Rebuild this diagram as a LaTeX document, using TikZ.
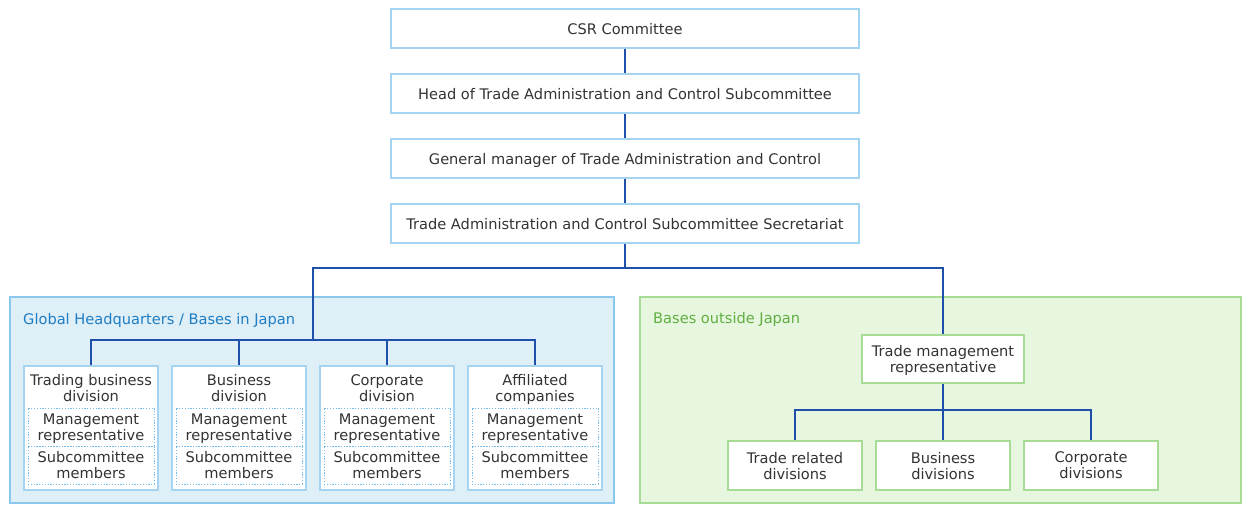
\documentclass[tikz,border=0pt]{standalone}
\usepackage{fontspec}
\setmainfont{DejaVu Sans}
\definecolor{txtgray}{RGB}{51,51,51}
\definecolor{boxblue}{RGB}{165,212,240}
\definecolor{dotblue}{RGB}{120,185,230}
\definecolor{lineblue}{RGB}{30,80,170}
\definecolor{jpnfill}{RGB}{222,239,248}
\definecolor{jpnline}{RGB}{140,200,235}
\definecolor{jpntext}{RGB}{30,125,195}
\definecolor{ovsfill}{RGB}{231,246,223}
\definecolor{ovsline}{RGB}{168,220,150}
\definecolor{ovstext}{RGB}{95,175,65}
\begin{document}
\begin{tikzpicture}[x=1pt, y=-1pt,
every node/.style={font=\fontsize{14.6}{16}\selectfont, text=txtgray, align=center, inner sep=0pt, text depth=0pt},
topbox/.style={draw=boxblue, fill=white, line width=1.2pt, minimum width=468pt, minimum height=39pt},
divbox/.style={draw=boxblue, fill=white, line width=1.2pt, minimum width=134pt, minimum height=124pt},
dotbox/.style={draw=dotblue, dash pattern=on 1.2pt off 1.6pt, line width=1pt, minimum width=126pt, minimum height=38pt},
ovsbox/.style={draw=ovsline, fill=white, line width=1.2pt, minimum width=134pt, minimum height=49pt},
link/.style={draw=lineblue, line width=1.3pt},
]
\useasboundingbox (0,0) rectangle (1243,506);

% chain on top
\node[topbox] (csr)  at (625,28.5)  {CSR Committee};
\node[topbox] (head) at (625,93.5)  {Head of Trade Administration and Control Subcommittee};
\node[topbox] (gm)   at (625,158.5) {General manager of Trade Administration and Control};
\node[topbox] (sec)  at (625,223.5) {Trade Administration and Control Subcommittee Secretariat};
\draw[link] (csr) -- (head);
\draw[link] (head) -- (gm);
\draw[link] (gm) -- (sec);

% the two panels
\draw[fill=jpnfill, draw=jpnline, line width=1.2pt] (10,297) rectangle (614,503);
\draw[fill=ovsfill, draw=ovsline, line width=1.2pt] (640,297) rectangle (1241,503);
\node[anchor=west, text=jpntext] (jpnlbl) at (23,319) {Global Headquarters / Bases in Japan};
\node[anchor=west, text=ovstext] (ovslbl) at (653,318) {Bases outside Japan};

% Japan side
\foreach \i/\x/\ttl in {1/91/{Trading business\\division}, 2/239/{Business\\division},
                        3/387/{Corporate\\division}, 4/535/{Affiliated\\companies}}{
  \node[divbox] (d\i) at (\x,428) {};
  \node (t\i) at (\x,388) {\ttl};
  \node[dotbox] (m\i) at (\x,427) {Management\\representative};
  \node[dotbox] (s\i) at (\x,465) {Subcommittee\\members};
}

% outside Japan
\node[draw=ovsline, fill=white, line width=1.2pt, minimum width=162pt, minimum height=48pt]
  (tmr) at (943,359) {Trade management\\representative};
\node[ovsbox] (o1) at (795,465.5)  {Trade related\\divisions};
\node[ovsbox] (o2) at (943,465.5)  {Business\\divisions};
\node[ovsbox] (o3) at (1091,465.5) {Corporate\\divisions};

% connectors
\coordinate (split) at (625,268);
\coordinate (jbar) at (313,340);
\coordinate (obar) at (943,410);
\draw[link] (sec) -- (split);
\draw[link] (split) -| (jbar);
\draw[link] (split) -| (tmr.north);
\draw[link] (d1.north) |- (jbar) -| (d4.north);
\foreach \i in {2,3}
  \draw[link] (d\i.north) -- (d\i.north |- jbar);
\draw[link] (tmr) -- (o2);
\draw[link] (o1.north) |- (obar) -| (o3.north);
\end{tikzpicture}
\end{document}
